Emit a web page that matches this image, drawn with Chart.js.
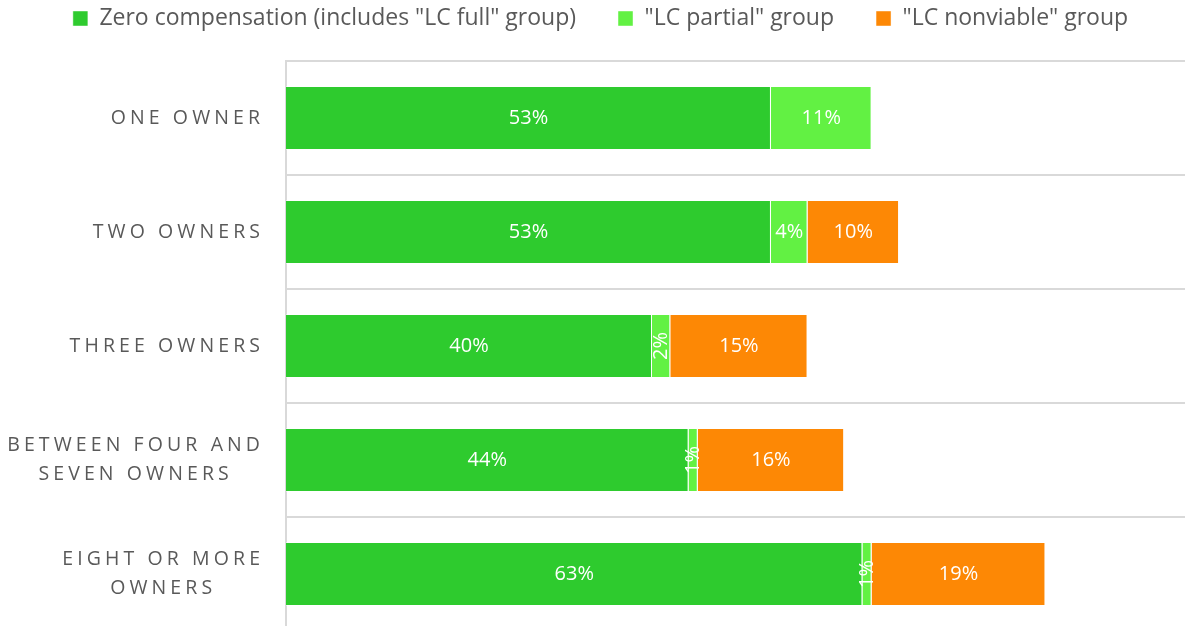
<!DOCTYPE html>
<html>
<head>
<meta charset="utf-8">
<script src="https://cdn.jsdelivr.net/npm/chart.js@4/dist/chart.umd.min.js"></script>
<style>
  html, body { margin: 0; padding: 0; overflow: hidden; background: #fff; }
  #wrap { width: 1201px; height: 631px; }
</style>
</head>
<body>
<div id="wrap"><canvas id="ownersChart" width="1201" height="631"></canvas></div>
<script>
// Dados
const categories = [
  'ONE OWNER',
  'TWO OWNERS',
  'THREE OWNERS',
  ['BETWEEN FOUR AND', 'SEVEN OWNERS'],
  ['EIGHT OR MORE', 'OWNERS']
];
const seriesNames = ['Zero compensation (includes "LC full" group)', '"LC partial" group', '"LC nonviable" group'];
const zeroComp = [53, 53, 40, 44, 63];
const lcPartial = [11, 4, 2, 1, 1];
const lcNonviable = [null, 10, 15, 16, 19];
const colors = ['#2ecb2e', '#62f143', '#fd8805'];

const fontName = '"Open Sans"';
const textGrey = '#595959';

// rótulos do eixo Y com espaçamento entre letras
const yLabelsPlugin = {
  id: 'yLabels',
  afterDraw(chart) {
    const ctx = chart.ctx;
    const scale = chart.scales.y;
    const spacing = 4.1;
    ctx.save();
    ctx.font = '19.5px ' + fontName;
    ctx.fillStyle = textGrey;
    ctx.letterSpacing = spacing + 'px';
    ctx.textAlign = 'left';
    ctx.textBaseline = 'middle';
    categories.forEach((lab, i) => {
      const lines = Array.isArray(lab) ? lab : [lab];
      const widths = lines.map(l => ctx.measureText(l).width - spacing);
      const widest = Math.max(...widths);
      const cx = scale.right - 26 - widest / 2;
      const yc = scale.getPixelForTick(i);
      const lh = 29;
      lines.forEach((l, k) => {
        ctx.fillText(l, cx - widths[k] / 2, yc + (k - (lines.length - 1) / 2) * lh);
      });
    });
    ctx.restore();
  }
};

// valores dentro das barras
const valueLabelsPlugin = {
  id: 'valueLabels',
  afterDatasetsDraw(chart) {
    const ctx = chart.ctx;
    ctx.save();
    ctx.font = '20px ' + fontName;
    ctx.fillStyle = '#ffffff';
    ctx.textAlign = 'center';
    ctx.textBaseline = 'middle';
    chart.data.datasets.forEach((ds, di) => {
      const meta = chart.getDatasetMeta(di);
      meta.data.forEach((bar, i) => {
        const v = ds.data[i];
        if (v == null) return;
        const cx = (bar.x + bar.base) / 2;
        const w = Math.abs(bar.x - bar.base);
        const txt = v + '%';
        if (w < 30) {
          ctx.save();
          ctx.translate(cx, bar.y);
          ctx.rotate(-Math.PI / 2);
          ctx.fillText(txt, 0, 0);
          ctx.restore();
        } else {
          ctx.fillText(txt, cx, bar.y);
        }
      });
    });
    ctx.restore();
  }
};

new Chart(document.getElementById('ownersChart'), {
  type: 'bar',
  data: {
    labels: categories,
    datasets: [
      { label: seriesNames[0], data: zeroComp, backgroundColor: colors[0] },
      { label: seriesNames[1], data: lcPartial, backgroundColor: colors[1] },
      { label: seriesNames[2], data: lcNonviable, backgroundColor: colors[2] }
    ].map(d => Object.assign(d, {
      borderColor: 'rgba(255,255,255,0.45)',
      borderWidth: 1,
      barPercentage: 0.56,
      categoryPercentage: 1
    }))
  },
  options: {
    indexAxis: 'y',
    responsive: false,
    animation: false,
    devicePixelRatio: 1,
    layout: { padding: { top: -35, left: 0, right: 0, bottom: 0 } },
    plugins: {
      legend: {
        position: 'top',
        labels: {
          font: { family: fontName, size: 23 },
          color: textGrey,
          boxWidth: 15,
          boxHeight: 15,
          padding: 42
        }
      },
      tooltip: { enabled: false }
    },
    scales: {
      x: {
        stacked: true,
        min: 0,
        max: 100,
        position: 'top',
        grid: { display: false, drawTicks: false },
        border: { display: false },
        ticks: { display: false },
        // espaço entre a legenda e o gráfico
        title: { display: true, text: ' ', color: 'rgba(0,0,0,0)', font: { size: 10 }, padding: { top: 0, bottom: 9 } }
      },
      y: {
        stacked: true,
        ticks: { display: false },
        grid: { color: '#d9d9d9', lineWidth: 2, drawTicks: false },
        border: { color: '#d9d9d9', width: 2 },
        afterFit(scale) { scale.width = 286; }
      }
    }
  },
  plugins: [yLabelsPlugin, valueLabelsPlugin]
});
</script>
</body>
</html>
